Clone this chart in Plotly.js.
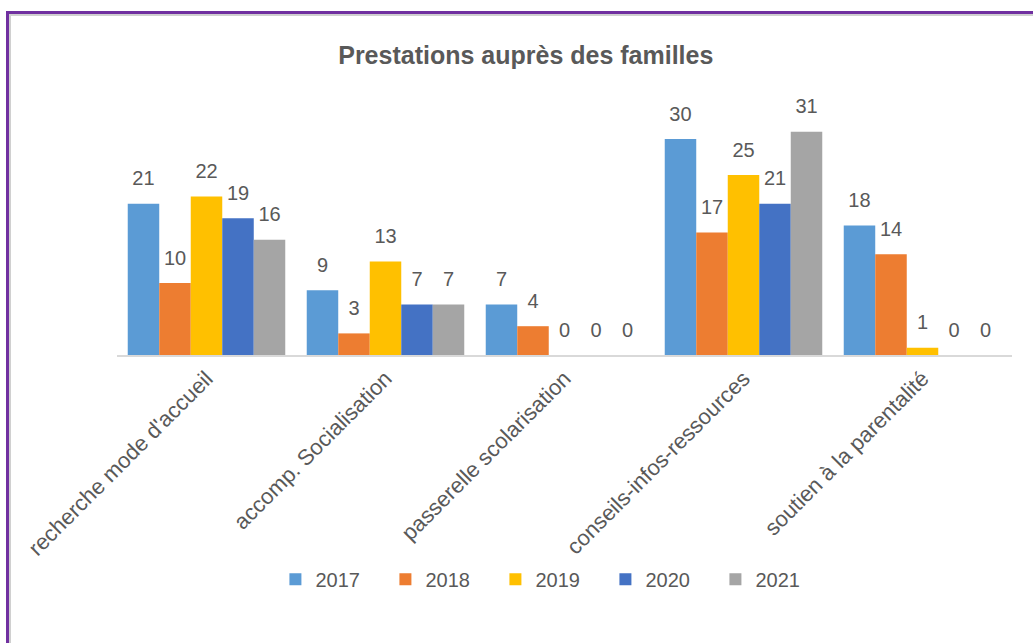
<!DOCTYPE html>
<html><head><meta charset="utf-8">
<script src="https://cdn.plot.ly/plotly-3.0.1.min.js"></script>
<style>
html,body{margin:0;padding:0;background:#fff;}
#chart{width:1033px;height:643px;}
#frame{position:absolute;left:6px;top:11px;width:1040px;height:650px;border-top:3px solid #7030A0;border-left:3px solid #7030A0;box-shadow:inset 2px 2px 0 #d0d0d0;pointer-events:none;}
</style></head>
<body>
<div id="chart"></div>
<div id="frame"></div>
<script>
const categories = ["recherche mode d'accueil","accomp. Socialisation","passerelle scolarisation","conseils-infos-ressources","soutien à la parentalité"];
const years = ["2017","2018","2019","2020","2021"];
const v2017 = [21, 9, 7, 30, 18];
const v2018 = [10, 3, 4, 17, 14];
const v2019 = [22, 13, 0, 25, 1];
const v2020 = [19, 7, 0, 21, 0];
const v2021 = [16, 7, 0, 31, 0];
const series = [v2017, v2018, v2019, v2020, v2021];
const colors = ["#5B9BD5","#ED7D31","#FFC000","#4472C4","#A5A5A5"];
const lblColor = "#595959";
const fontFam = "Liberation Sans, Arial, sans-serif";

const bars = series.map((vals, i) => ({
  type: 'bar', name: years[i], x: categories, y: vals,
  marker: {color: colors[i]},
  hoverinfo: 'none'
}));
const labels = series.map((vals, i) => ({
  type: 'scatter', mode: 'markers+text', x: categories, y: vals,
  marker: {size: 20, opacity: 0, color: colors[i]},
  text: vals.map(String), textposition: 'top center', cliponaxis: false,
  textfont: {size: 20, color: lblColor, family: fontFam},
  showlegend: false, hoverinfo: 'none'
}));

const layout = {
  width: 1033, height: 643,
  margin: {l: 117, r: 21, t: 103, b: 288},
  paper_bgcolor: '#fff', plot_bgcolor: '#fff',
  barmode: 'group', bargap: 0.12, bargroupgap: 0,
  scattermode: 'group', scattergap: 0.12,
  title: {text: 'Prestations auprès des familles', x: 0.509, xanchor: 'center', y: 0.914, yanchor: 'middle',
          font: {family: fontFam, size: 25, color: lblColor, weight: 'bold'}},
  xaxis: {showline: true, linecolor: '#d9d9d9', linewidth: 2, ticks: '', tickangle: -45,
          tickfont: {family: fontFam, size: 22, color: lblColor}, automargin: false, showgrid: false, zeroline: false},
  yaxis: {range: [0, 35], visible: false, showgrid: false, zeroline: false, automargin: false},
  showlegend: true,
  legend: {orientation: 'h', x: 0.177, xanchor: 'left', y: -0.89, yanchor: 'middle',
           entrywidth: 65, entrywidthmode: 'pixels',
           font: {family: fontFam, size: 20, color: lblColor}, itemwidth: 30, traceorder: 'normal'}
};
Plotly.newPlot('chart', bars.concat(labels), layout, {staticPlot: true});
</script>
</body></html>
